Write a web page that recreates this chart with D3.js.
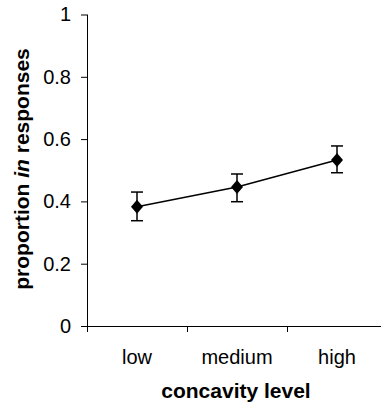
<!DOCTYPE html>
<html>
<head>
<meta charset="utf-8">
<script src="https://cdn.jsdelivr.net/npm/d3@7"></script>
<style>
  body { margin: 0; background: #fff; }
  text { font-family: Arial, "Liberation Sans", sans-serif; }
</style>
</head>
<body>
<svg id="chart" width="381" height="408"></svg>
<script>
var categories = ["low", "medium", "high"];
var means = [0.383, 0.446, 0.533];
var upper = [0.430, 0.488, 0.578];
var lower = [0.338, 0.399, 0.492];
var yTicks = [0, 0.2, 0.4, 0.6, 0.8, 1];

var svg = d3.select("#chart");
var margin = { top: 14.5, left: 87, bottom: 326, right: 387 };

var x = d3.scaleBand()
    .domain(categories)
    .range([margin.left, margin.right]);

var y = d3.scaleLinear()
    .domain([0, 1])
    .range([margin.bottom, margin.top]);

// y axis
var yAxis = svg.append("g")
    .attr("transform", "translate(" + margin.left + ",0)")
    .call(d3.axisLeft(y).tickValues(yTicks).tickFormat(d3.format("")).tickSize(6).tickPadding(10));
yAxis.select(".domain").attr("stroke", "#000").attr("d", "M0.5," + margin.top + "V" + margin.bottom);
yAxis.selectAll(".tick line").attr("stroke", "#000");
yAxis.selectAll(".tick text").attr("font-size", 20).attr("fill", "#000");

// x axis
var xAxis = svg.append("g")
    .attr("transform", "translate(0," + margin.bottom + ")");
xAxis.append("line")
    .attr("x1", margin.left).attr("x2", margin.right)
    .attr("y1", 0.5).attr("y2", 0.5)
    .attr("stroke", "#000");
var bounds = [margin.left].concat(categories.map(c => x(c) + x.bandwidth()));
xAxis.selectAll(".xtick")
    .data(bounds)
    .enter().append("line")
    .attr("x1", d => Math.round(d) + 0.5).attr("x2", d => Math.round(d) + 0.5)
    .attr("y1", 0).attr("y2", 6)
    .attr("stroke", "#000");
xAxis.selectAll(".xlabel")
    .data(categories)
    .enter().append("text")
    .attr("x", d => x(d) + x.bandwidth() / 2)
    .attr("y", 38)
    .attr("text-anchor", "middle")
    .attr("font-size", 20)
    .text(d => d);

// titles
svg.append("text")
    .attr("x", 236).attr("y", 398)
    .attr("text-anchor", "middle")
    .attr("font-size", 21)
    .attr("font-weight", "bold")
    .text("concavity level");

var yt = svg.append("text")
    .attr("transform", "translate(29,169) rotate(-90)")
    .attr("text-anchor", "middle")
    .attr("font-size", 21)
    .attr("font-weight", "bold");
yt.append("tspan").text("proportion ");
yt.append("tspan").attr("font-style", "italic").text("in");
yt.append("tspan").text(" responses");

var data = categories.map((c, i) => ({ cat: c, m: means[i], hi: upper[i], lo: lower[i] }));
var cx = d => x(d.cat) + x.bandwidth() / 2;

// error bars
var eb = svg.append("g").attr("stroke", "#000").attr("stroke-width", 1.5);
eb.selectAll(".v").data(data).enter().append("line")
    .attr("x1", cx).attr("x2", cx)
    .attr("y1", d => y(d.hi)).attr("y2", d => y(d.lo));
eb.selectAll(".t").data(data).enter().append("line")
    .attr("x1", d => cx(d) - 6).attr("x2", d => cx(d) + 6)
    .attr("y1", d => y(d.hi)).attr("y2", d => y(d.hi));
eb.selectAll(".b").data(data).enter().append("line")
    .attr("x1", d => cx(d) - 6).attr("x2", d => cx(d) + 6)
    .attr("y1", d => y(d.lo)).attr("y2", d => y(d.lo));

// line
var line = d3.line().x(cx).y(d => y(d.m));
svg.append("path")
    .datum(data)
    .attr("fill", "none")
    .attr("stroke", "#000")
    .attr("stroke-width", 1.5)
    .attr("d", line);

// diamond markers
svg.selectAll(".pt")
    .data(data)
    .enter().append("path")
    .attr("transform", d => "translate(" + cx(d) + "," + y(d.m) + ")")
    .attr("d", "M0,-7L6,0L0,7L-6,0Z")
    .attr("fill", "#000");
</script>
</body>
</html>
